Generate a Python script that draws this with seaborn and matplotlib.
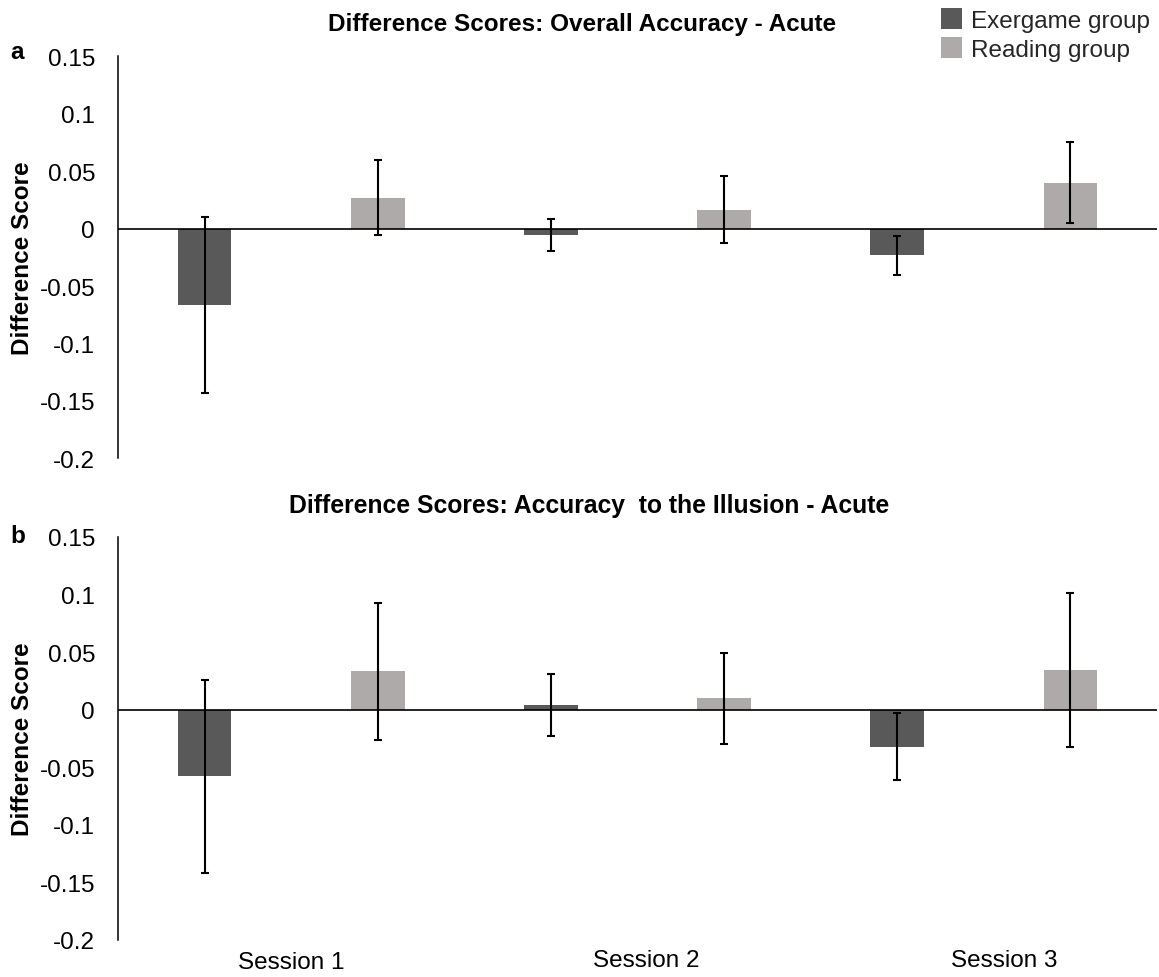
import numpy as np
import pandas as pd
import matplotlib
matplotlib.use("Agg")
import matplotlib.pyplot as plt
import matplotlib.transforms as mtransforms
from matplotlib.patches import Patch
from matplotlib.ticker import FuncFormatter
import seaborn as sns

# ---------------- data ----------------
sessions = ["Session 1", "Session 2", "Session 3"]
groups = ["Exergame group", "Reading group"]
colors = ["#595959", "#AEAAAA"]

a_exergame = [-0.0665, -0.0058, -0.0233]
a_exergame_err = [0.077, 0.014, 0.0172]
a_reading = [0.0268, 0.0164, 0.0400]
a_reading_err = [0.0327, 0.029, 0.035]

b_exergame = [-0.058, 0.0039, -0.0323]
b_exergame_err = [0.084, 0.0267, 0.029]
b_reading = [0.0332, 0.0097, 0.0345]
b_reading_err = [0.0595, 0.0394, 0.0668]

title_a = "Difference Scores: Overall Accuracy - Acute"
title_b = "Difference Scores: Accuracy  to the Illusion - Acute"
y_label = "Difference Score"
y_ticks = [0.15, 0.1, 0.05, 0, -0.05, -0.1, -0.15, -0.2]

# ---------------- style ----------------
sns.set_theme(style="white")
plt.rcParams["font.family"] = ["Liberation Sans", "DejaVu Sans"]
FS = 17.5

W, H = 1159, 978
fig = plt.figure(figsize=(W / 100, H / 100), dpi=100)


def make_df(ex, re):
    return pd.DataFrame({
        "session": sessions * 2,
        "group": [groups[0]] * 3 + [groups[1]] * 3,
        "value": list(ex) + list(re),
    })


def draw_panel(ax, ex, ex_err, re, re_err, show_x):
    df = make_df(ex, re)
    sns.barplot(data=df, x="session", y="value", hue="group",
                hue_order=groups, order=sessions,
                palette=colors, width=1.0, gap=0.69,
                errorbar=None, legend=False, ax=ax,
                saturation=1, edgecolor="none", linewidth=0)
    errs = [ex_err, re_err]
    for cont, err in zip(ax.containers, errs):
        xs = [b.get_x() + b.get_width() / 2 for b in cont]
        ys = [b.get_height() for b in cont]
        ax.errorbar(xs, ys, yerr=err, fmt="none", ecolor="black",
                    elinewidth=1.5, capsize=3.2, capthick=1.5, zorder=5)
    ax.axhline(0, color="black", lw=1.2, zorder=4)
    ax.set_xlim(-0.5, 2.5)
    ax.set_ylim(-0.2, 0.15)
    ax.set_yticks(y_ticks)
    ax.yaxis.set_major_formatter(FuncFormatter(lambda v, p: f"{v:g}" if abs(v) > 1e-9 else "0"))
    for s in ["top", "right", "bottom"]:
        ax.spines[s].set_visible(False)
    ax.spines["left"].set_color("black")
    ax.spines["left"].set_linewidth(1.1)
    ax.tick_params(axis="y", length=0, pad=16.5, labelsize=FS, labelcolor="black")
    ax.tick_params(axis="x", length=0, pad=7, labelsize=FS, labelcolor="black")
    ax.set_ylabel(y_label, fontsize=FS, fontweight="bold", color="black")
    ax.yaxis.set_label_coords(-0.081, 0.5)
    ax.set_xlabel("")
    ax.set_facecolor("white")
    if not show_x:
        ax.set_xticklabels([])
    else:
        shifts = [(0, -2), (9, 0), (20, 0)]
        for lab, (dx, dy) in zip(ax.get_xticklabels(), shifts):
            lab.set_transform(lab.get_transform() +
                              mtransforms.ScaledTranslation(dx / 100, dy / 100, fig.dpi_scale_trans))


left = 118 / W
right = 1157 / W
ax_a = fig.add_axes([left, 1 - 459.3 / H, right - left, (459.3 - 57.3) / H])
ax_b = fig.add_axes([left, 1 - 940.7 / H, right - left, (940.7 - 538.0) / H])

draw_panel(ax_a, a_exergame, a_exergame_err, a_reading, a_reading_err, False)
draw_panel(ax_b, b_exergame, b_exergame_err, b_reading, b_reading_err, True)

# titles and panel letters
fig.text(582 / W, 1 - 24 / H, title_a, ha="center", va="center",
         fontsize=FS, fontweight="bold", color="black")
fig.text(589 / W, 1 - 506 / H, title_b, ha="center", va="center",
         fontsize=17.8, fontweight="bold", color="black")
fig.text(10 / W, 1 - 59 / H, "a", ha="left", va="baseline",
         fontsize=FS, fontweight="bold", color="black")
fig.text(10 / W, 1 - 543 / H, "b", ha="left", va="baseline",
         fontsize=FS, fontweight="bold", color="black")

# legend
handles = [Patch(facecolor=c, edgecolor="none", label=g) for c, g in zip(colors, groups)]
fig.legend(handles=handles, loc="upper left",
           bbox_to_anchor=(941 / W, 1 - 9 / H), frameon=False,
           fontsize=FS, handlelength=0.87, handleheight=0.95,
           handletextpad=0.37, labelspacing=0.22, borderpad=0, borderaxespad=0)

fig.savefig("out.png", dpi=100, facecolor="white")
